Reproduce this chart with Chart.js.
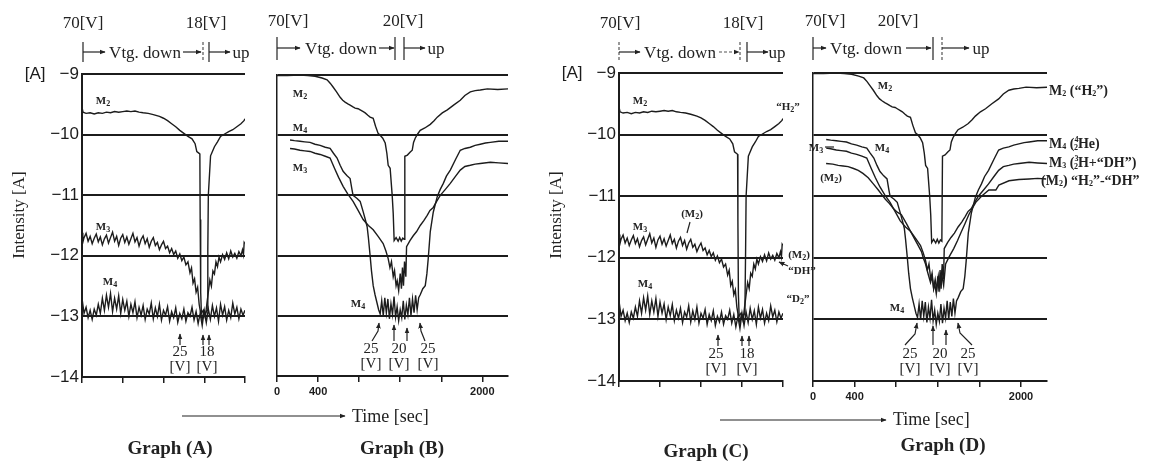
<!DOCTYPE html>
<html>
<head>
<meta charset="utf-8">
<script src="https://cdn.jsdelivr.net/npm/chart.js@4.4.1/dist/chart.umd.min.js"></script>
<style>
  html, body { margin: 0; padding: 0; background: #fff; }
  #wrap { position: relative; width: 1163px; height: 462px; overflow: hidden; }
  canvas { position: absolute; top: 0; }
  svg { position: absolute; left: 0; top: 0; }
  text { font-family: 'Liberation Serif', 'DejaVu Serif', serif; fill: #222; dominant-baseline: central; text-anchor: middle; }
  .top { font-size: 17px; }
  .m { font-size: 11px; font-weight: bold; }
  .v { font-size: 15px; }
  .ax { font-size: 17px; }
  .tm { font-size: 18px; text-anchor: start; }
  .gr { font-size: 19px; font-weight: bold; }
  .r { font-size: 14px; font-weight: bold; text-anchor: start; }
  .s { font-size: 8px; }
  line, path { stroke: #222; stroke-width: 1.2; fill: none; }
  .dash { stroke-dasharray: 3 2; stroke: #555; }
</style>
</head>
<body>
<div id="wrap">
  <canvas id="chA" width="262" height="462" style="left:0px"></canvas>
  <canvas id="chB" width="270" height="462" style="left:262px"></canvas>
  <canvas id="chC" width="265" height="462" style="left:532px"></canvas>
  <canvas id="chD" width="290" height="462" style="left:797px"></canvas>

  <svg width="1163" height="462">
    <defs>
      <marker id="ah" viewBox="0 0 10 10" refX="9" refY="5" markerWidth="5" markerHeight="5" orient="auto">
        <path d="M0,1 L10,5 L0,9 z" style="fill:#222;stroke:none"/>
      </marker>
    </defs>

    <!-- Graph A header -->
    <text class="top" x="83" y="22">70[V]</text>
    <text class="top" x="206" y="22">18[V]</text>
    <line x1="83" y1="42" x2="83" y2="62"/>
    <line x1="83" y1="52" x2="105" y2="52" marker-end="url(#ah)"/>
    <text class="top" x="145" y="52">Vtg. down</text>
    <line x1="183" y1="52" x2="201" y2="52" marker-end="url(#ah)"/>
    <line class="dash" x1="203" y1="42" x2="203" y2="62"/>
    <line x1="209" y1="42" x2="209" y2="62"/>
    <line x1="209" y1="52" x2="230" y2="52" marker-end="url(#ah)"/>
    <text class="top" x="241" y="52">up</text>

    <!-- Graph B header -->
    <text class="top" x="288" y="20">70[V]</text>
    <text class="top" x="403" y="20">20[V]</text>
    <line x1="277" y1="37" x2="277" y2="60"/>
    <line x1="277" y1="48" x2="300" y2="48" marker-end="url(#ah)"/>
    <text class="top" x="341" y="48">Vtg. down</text>
    <line x1="379" y1="48" x2="394" y2="48" marker-end="url(#ah)"/>
    <line x1="395" y1="37" x2="395" y2="60"/>
    <line x1="404" y1="37" x2="404" y2="60"/>
    <line x1="404" y1="48" x2="425" y2="48" marker-end="url(#ah)"/>
    <text class="top" x="436" y="48">up</text>

    <!-- Graph C header -->
    <text class="top" x="620" y="22">70[V]</text>
    <text class="top" x="743" y="22">18[V]</text>
    <line class="dash" x1="619" y1="42" x2="619" y2="62"/>
    <line x1="619" y1="52" x2="640" y2="52" marker-end="url(#ah)"/>
    <text class="top" x="680" y="52">Vtg. down</text>
    <line class="dash" x1="719" y1="52" x2="739" y2="52" marker-end="url(#ah)"/>
    <line class="dash" x1="740" y1="42" x2="740" y2="62"/>
    <line x1="747" y1="42" x2="747" y2="62"/>
    <line x1="747" y1="52" x2="768" y2="52" marker-end="url(#ah)"/>
    <text class="top" x="777" y="52">up</text>

    <!-- Graph D header -->
    <text class="top" x="825" y="20">70[V]</text>
    <text class="top" x="898" y="20">20[V]</text>
    <line x1="813" y1="37" x2="813" y2="60"/>
    <line x1="813" y1="48" x2="826" y2="48" marker-end="url(#ah)"/>
    <text class="top" x="866" y="48">Vtg. down</text>
    <line x1="906" y1="48" x2="931" y2="48" marker-end="url(#ah)"/>
    <line x1="933" y1="37" x2="933" y2="60"/>
    <line class="dash" x1="942" y1="37" x2="942" y2="60"/>
    <line x1="942" y1="48" x2="969" y2="48" marker-end="url(#ah)"/>
    <text class="top" x="981" y="48">up</text>

    <!-- axis titles -->
    <text class="ax" transform="translate(18,215) rotate(-90)">Intensity [A]</text>
    <text class="ax" transform="translate(555,215) rotate(-90)">Intensity [A]</text>
    <line x1="182" y1="416" x2="345" y2="416" marker-end="url(#ah)"/>
    <text class="tm" x="352" y="416">Time [sec]</text>
    <line x1="720" y1="420" x2="886" y2="420" marker-end="url(#ah)"/>
    <text class="tm" x="893" y="419">Time [sec]</text>
    <text class="gr" x="170" y="447">Graph (A)</text>
    <text class="gr" x="402" y="447">Graph (B)</text>
    <text class="gr" x="706" y="450">Graph (C)</text>
    <text class="gr" x="943" y="444">Graph (D)</text>

    <!-- Graph A labels -->
    <text class="m" x="103" y="100">M<tspan class="s" dy="3">2</tspan></text>
    <text class="m" x="103" y="226">M<tspan class="s" dy="3">3</tspan></text>
    <text class="m" x="110" y="281">M<tspan class="s" dy="3">4</tspan></text>
    <line x1="180" y1="345" x2="180" y2="334" marker-end="url(#ah)"/>
    <line x1="203" y1="345" x2="203" y2="335" marker-end="url(#ah)"/>
    <line x1="209" y1="345" x2="209" y2="335" marker-end="url(#ah)"/>
    <text class="v" x="180" y="351">25</text><text class="v" x="180" y="366">[V]</text>
    <text class="v" x="207" y="351">18</text><text class="v" x="207" y="366">[V]</text>

    <!-- Graph B labels -->
    <text class="m" x="300" y="93">M<tspan class="s" dy="3">2</tspan></text>
    <text class="m" x="300" y="127">M<tspan class="s" dy="3">4</tspan></text>
    <text class="m" x="300" y="167">M<tspan class="s" dy="3">3</tspan></text>
    <text class="m" x="358" y="303">M<tspan class="s" dy="3">4</tspan></text>
    <path d="M372,341 L378,331 L379,323" marker-end="url(#ah)"/>
    <line x1="394" y1="341" x2="394" y2="325" marker-end="url(#ah)"/>
    <line x1="407" y1="341" x2="407" y2="328" marker-end="url(#ah)"/>
    <path d="M425,341 L421,331 L420,323" marker-end="url(#ah)"/>
    <text class="v" x="371" y="348">25</text><text class="v" x="371" y="363">[V]</text>
    <text class="v" x="399" y="348">20</text><text class="v" x="399" y="363">[V]</text>
    <text class="v" x="428" y="348">25</text><text class="v" x="428" y="363">[V]</text>

    <!-- Graph C labels -->
    <text class="m" x="640" y="100">M<tspan class="s" dy="3">2</tspan></text>
    <text class="m" x="788" y="106">“H<tspan class="s" dy="3">2</tspan><tspan dy="-3">”</tspan></text>
    <text class="m" x="640" y="226">M<tspan class="s" dy="3">3</tspan></text>
    <text class="m" x="692" y="213">(M<tspan class="s" dy="3">2</tspan><tspan dy="-3">)</tspan></text>
    <line x1="690" y1="222" x2="687" y2="233"/>
    <text class="m" x="645" y="283">M<tspan class="s" dy="3">4</tspan></text>
    <text class="m" x="799" y="254">(M<tspan class="s" dy="3">2</tspan><tspan dy="-3">)</tspan></text>
    <line x1="788" y1="266" x2="779" y2="262" marker-end="url(#ah)"/>
    <text class="m" x="802" y="270">“DH”</text>
    <text class="m" x="798" y="298">“D<tspan class="s" dy="3">2</tspan><tspan dy="-3">”</tspan></text>
    <line x1="718" y1="346" x2="718" y2="335" marker-end="url(#ah)"/>
    <line x1="742" y1="346" x2="742" y2="336" marker-end="url(#ah)"/>
    <line x1="749" y1="346" x2="749" y2="336" marker-end="url(#ah)"/>
    <text class="v" x="716" y="353">25</text><text class="v" x="716" y="368">[V]</text>
    <text class="v" x="747" y="353">18</text><text class="v" x="747" y="368">[V]</text>

    <!-- Graph D labels -->
    <text class="m" x="885" y="85">M<tspan class="s" dy="3">2</tspan></text>
    <text class="m" x="816" y="147">M<tspan class="s" dy="3">3</tspan></text>
    <line x1="825" y1="147" x2="834" y2="147"/>
    <text class="m" x="882" y="147">M<tspan class="s" dy="3">4</tspan></text>
    <text class="m" x="831" y="177">(M<tspan class="s" dy="3">2</tspan><tspan dy="-3">)</tspan></text>
    <text class="m" x="897" y="307">M<tspan class="s" dy="3">4</tspan></text>
    <path d="M905,345 L915,334 L917,323" marker-end="url(#ah)"/>
    <line x1="933" y1="345" x2="933" y2="326" marker-end="url(#ah)"/>
    <line x1="946" y1="345" x2="946" y2="330" marker-end="url(#ah)"/>
    <path d="M972,345 L960,333 L958,323" marker-end="url(#ah)"/>
    <text class="v" x="910" y="353">25</text><text class="v" x="910" y="368">[V]</text>
    <text class="v" x="940" y="353">20</text><text class="v" x="940" y="368">[V]</text>
    <text class="v" x="968" y="353">25</text><text class="v" x="968" y="368">[V]</text>
    <text class="r" x="1049" y="90">M<tspan class="s" dy="3">2</tspan><tspan dy="-3"> (“H</tspan><tspan class="s" dy="3">2</tspan><tspan dy="-3">”)</tspan></text>
    <text class="r" x="1049" y="143">M<tspan class="s" dy="3">4</tspan><tspan dy="-3"> (</tspan><tspan class="s" dy="-4">4</tspan><tspan class="s" dx="-4.5" dy="8">2</tspan><tspan dy="-4">He)</tspan></text>
    <text class="r" x="1049" y="162">M<tspan class="s" dy="3">3</tspan><tspan dy="-3"> (</tspan><tspan class="s" dy="-4">3</tspan><tspan class="s" dx="-4.5" dy="8">2</tspan><tspan dy="-4">H+“DH”)</tspan></text>
    <text class="r" x="1041" y="180">(M<tspan class="s" dy="3">2</tspan><tspan dy="-3">) “H</tspan><tspan class="s" dy="3">2</tspan><tspan dy="-3">”-“DH”</tspan></text>
  </svg>
</div>

<script>
// Graph A / C : time [sec], log intensity
const m2A = [[0,-9.55],[10,-9.63],[40,-9.65],[80,-9.64],[120,-9.66],[160,-9.64],[200,-9.65],[240,-9.63],[280,-9.64],[320,-9.62],
  [360,-9.63],[400,-9.62],[440,-9.61],[480,-9.62],[520,-9.61],[560,-9.63],[600,-9.64],[650,-9.65],[700,-9.67],[760,-9.70],
  [800,-9.73],[840,-9.77],[880,-9.82],[920,-9.87],[960,-9.93],[1000,-9.98],[1040,-10.03],[1080,-10.07],[1110,-10.15],[1127,-10.28],
  [1150,-10.31],[1157,-10.32],[1160,-11.4],[1165,-12.6],[1172,-12.95],[1190,-12.9],[1210,-12.95],[1228,-12.9],[1235,-11.9],[1240,-11.0],
  [1262,-10.35],[1275,-10.3],[1300,-10.2],[1330,-10.12],[1360,-10.03],[1400,-9.99],[1440,-9.95],[1480,-9.92],[1520,-9.87],[1560,-9.82],
  [1590,-9.77],[1600,-9.74]];
const m3A = [[0,-11.62],[8,-11.78],[20,-11.70],[40,-11.63],[60,-11.76],[80,-11.68],[100,-11.80],[120,-11.71],[140,-11.64],[160,-11.77],
  [180,-11.69],[200,-11.82],[220,-11.72],[240,-11.66],[260,-11.79],[280,-11.70],[300,-11.61],[320,-11.76],[340,-11.68],[360,-11.83],
  [380,-11.71],[400,-11.65],[420,-11.78],[440,-11.69],[460,-11.81],[480,-11.72],[500,-11.63],[520,-11.77],[540,-11.70],[560,-11.84],
  [580,-11.73],[600,-11.67],[620,-11.80],[640,-11.72],[660,-11.86],[680,-11.76],[700,-11.70],[720,-11.83],[740,-11.78],[760,-11.90],
  [780,-11.82],[800,-11.76],[820,-11.88],[840,-11.84],[860,-11.95],[880,-11.88],[900,-11.98],[920,-11.92],[940,-12.04],[960,-11.97],
  [980,-12.08],[1000,-12.02],[1020,-12.15],[1040,-12.10],[1060,-12.28],[1075,-12.20],[1090,-12.45],[1105,-12.38],[1120,-12.60],[1135,-12.52],
  [1150,-12.80],[1165,-12.95],[1180,-13.05],[1195,-12.92],[1210,-13.02],[1225,-12.80],[1240,-12.60],[1255,-12.40],[1270,-12.50],[1285,-12.25],
  [1300,-12.30],[1315,-12.10],[1330,-12.18],[1345,-12.02],[1360,-12.10],[1380,-11.98],[1400,-12.06],[1420,-11.95],[1440,-12.05],[1460,-11.92],
  [1480,-12.02],[1500,-11.96],[1520,-12.04],[1540,-11.93],[1560,-12.00],[1575,-11.90],[1585,-11.98],[1592,-11.78],[1600,-11.80]];
const m4A = [[0,-12.70],[20,-12.95],[40,-12.85],[60,-13.02],[80,-12.90],[100,-13.05],[120,-12.88],[140,-12.98],[160,-12.80],[180,-12.95],
  [200,-12.70],[220,-12.90],[240,-12.65],[260,-12.85],[280,-12.62],[300,-12.92],[320,-12.70],[340,-12.88],[360,-12.66],[380,-12.95],
  [400,-12.72],[420,-12.90],[440,-12.75],[460,-13.00],[480,-12.80],[500,-12.94],[520,-12.76],[540,-13.02],[560,-12.85],[580,-12.98],
  [600,-12.82],[620,-13.05],[640,-12.88],[660,-12.96],[680,-12.78],[700,-13.04],[720,-12.86],[740,-13.00],[760,-12.80],[780,-13.06],
  [800,-12.90],[820,-12.98],[840,-12.84],[860,-13.08],[880,-12.92],[900,-13.02],[920,-12.86],[940,-13.10],[960,-12.95],[980,-13.04],
  [1000,-12.88],[1020,-13.08],[1040,-12.94],[1060,-13.00],[1080,-12.85],[1100,-13.06],[1120,-12.92],[1140,-13.12],[1160,-12.95],[1180,-13.15],
  [1200,-12.90],[1220,-13.10],[1240,-12.88],[1260,-13.05],[1280,-12.82],[1300,-13.00],[1320,-12.86],[1340,-13.08],[1360,-12.80],[1380,-12.98],
  [1400,-12.84],[1420,-13.06],[1440,-12.90],[1460,-13.02],[1480,-12.78],[1500,-12.96],[1520,-12.85],[1540,-13.04],[1560,-12.88],[1580,-12.98],
  [1600,-12.90]];

// Graph B / D
const m2B = [[0,-9.01],[100,-9.01],[224,-9.0],[300,-9.01],[371,-9.02],[439,-9.05],[488,-9.08],[520,-9.14],[546,-9.2],[580,-9.28],
  [615,-9.37],[640,-9.42],[663,-9.45],[690,-9.48],[712,-9.5],[740,-9.53],[761,-9.55],[790,-9.56],[810,-9.58],[840,-9.61],
  [859,-9.63],[885,-9.67],[907,-9.7],[937,-9.72],[960,-9.85],[985,-9.97],[1005,-10.0],[1030,-10.05],[1054,-10.13],[1070,-10.3],
  [1083,-10.5],[1102,-10.55],[1122,-11.0],[1132,-11.3],[1141,-11.75],[1160,-11.7],[1180,-11.76],[1195,-11.7],[1210,-11.76],[1225,-11.71],
  [1239,-11.73],[1245,-10.35],[1270,-10.33],[1298,-10.28],[1317,-10.25],[1330,-10.12],[1346,-10.05],[1370,-9.98],[1395,-9.92],[1440,-9.88],
  [1493,-9.82],[1530,-9.76],[1561,-9.7],[1610,-9.63],[1659,-9.58],[1720,-9.5],[1785,-9.42],[1830,-9.34],[1883,-9.28],[1930,-9.26],
  [1980,-9.25],[2049,-9.23],[2150,-9.24],[2254,-9.23]];
const m4B = [[127,-10.08],[170,-10.09],[224,-10.1],[270,-10.11],[322,-10.12],[370,-10.15],[420,-10.17],[470,-10.2],[517,-10.22],[550,-10.3],
  [585,-10.38],[615,-10.5],[644,-10.6],[680,-10.67],[712,-10.72],[730,-10.9],[741,-11.0],[780,-11.05],[810,-11.1],[839,-11.27],
  [860,-11.4],[878,-11.52],[890,-11.7],[907,-12.0],[920,-12.25],[937,-12.5],[955,-12.65],[976,-12.8],[990,-12.9],[1005,-12.97],
  [1020,-12.75],[1035,-13.0],[1050,-12.7],[1065,-12.95],[1080,-12.72],[1095,-13.05],[1110,-12.8],[1125,-12.98],[1140,-12.68],[1155,-13.02],
  [1170,-12.85],[1185,-13.08],[1200,-12.9],[1215,-13.03],[1230,-12.75],[1245,-13.06],[1260,-12.82],[1275,-12.98],[1290,-12.7],[1305,-13.0],
  [1320,-12.72],[1335,-12.95],[1350,-12.66],[1365,-12.9],[1380,-12.7],[1395,-12.65],[1420,-12.55],[1444,-12.5],[1460,-12.3],[1473,-12.05],
  [1493,-11.6],[1522,-11.28],[1561,-11.02],[1590,-10.9],[1620,-10.8],[1650,-10.68],[1688,-10.58],[1740,-10.4],[1785,-10.25],[1830,-10.22],
  [1883,-10.2],[1930,-10.17],[1980,-10.15],[2030,-10.13],[2078,-10.12],[2160,-10.1],[2254,-10.1]];
const m3B = [[127,-10.22],[170,-10.23],[224,-10.25],[270,-10.26],[322,-10.27],[370,-10.3],[420,-10.32],[470,-10.35],[517,-10.38],[560,-10.55],
  [600,-10.7],[644,-10.85],[690,-10.98],[741,-11.1],[790,-11.25],[839,-11.4],[890,-11.5],[937,-11.57],[985,-11.68],[1034,-11.8],
  [1060,-11.92],[1083,-12.05],[1100,-12.2],[1115,-12.1],[1132,-12.35],[1145,-12.25],[1160,-12.5],[1171,-12.42],[1185,-12.58],[1200,-12.3],
  [1212,-12.55],[1222,-12.2],[1232,-12.5],[1242,-12.1],[1255,-12.35],[1262,-11.85],[1295,-11.75],[1327,-11.67],[1360,-11.6],[1395,-11.5],
  [1430,-11.42],[1463,-11.33],[1490,-11.25],[1522,-11.2],[1555,-11.1],[1590,-11.0],[1640,-10.9],[1688,-10.8],[1740,-10.68],[1785,-10.58],
  [1830,-10.52],[1883,-10.5],[1930,-10.48],[1980,-10.47],[2078,-10.45],[2160,-10.46],[2254,-10.47]];
// extra (M2) "H2"-"DH" trace, graph D only
const m2xD = [[126,-10.47],[190,-10.48],[242,-10.5],[290,-10.51],[338,-10.52],[390,-10.55],[435,-10.58],[480,-10.63],[531,-10.7],[580,-10.8],
  [628,-10.9],[660,-10.97],[696,-11.05],[735,-11.12],[773,-11.2],[810,-11.26],[850,-11.3],[900,-11.45],[947,-11.6],[995,-11.75],
  [1043,-11.9],[1060,-12.0],[1082,-12.1],[1105,-12.25],[1130,-12.4],[1145,-12.3],[1160,-12.5],[1175,-12.35],[1190,-12.52],[1205,-12.3],
  [1220,-12.48],[1235,-12.25],[1256,-12.45],[1275,-12.1],[1310,-11.98],[1353,-11.85],[1390,-11.72],[1420,-11.6],[1460,-11.45],[1498,-11.3],
  [1530,-11.2],[1565,-11.1],[1620,-11.0],[1691,-10.9],[1758,-10.9],[1787,-10.82],[1884,-10.75],[1980,-10.73],[2077,-10.72],[2160,-10.71],
  [2242,-10.72]];

// time axis ticks
const timeTicksAC = [0, 400, 800, 1200, 1600];
const timeTicksBD = [0, 400, 800, 1200, 1600, 2000];
const timeLabels = [0, 400, 2000];   // the only labelled ones, on B and D
const ink = '#1c1c1c';

function makeChart(id, geo, series, xMax, tickVals, showY, xLabels) {
  const xH = 26;
  new Chart(document.getElementById(id), {
    type: 'line',
    data: {
      datasets: series.map(s => ({
        data: s.map(p => ({ x: p[0], y: p[1] })),
        borderColor: ink, borderWidth: 1.4, pointRadius: 0, tension: 0
      }))
    },
    options: {
      responsive: false, animation: false, events: [],
      layout: { padding: { left: 0, top: geo.top, right: geo.x + geo.w - geo.right, bottom: 462 - geo.bottom - xH } },
      plugins: { legend: { display: false }, tooltip: { enabled: false } },
      scales: {
        x: {
          type: 'linear', min: 0, max: xMax,
          afterBuildTicks: s => { s.ticks = tickVals.map(v => ({ value: v })); },
          afterFit: s => { s.height = xH; },
          border: { color: ink, width: 2 },
          grid: { drawOnChartArea: false, drawTicks: true, tickLength: 6, color: ink, lineWidth: 1.5 },
          ticks: {
            autoSkip: false, maxRotation: 0, padding: 3, color: ink,
            font: { family: 'Liberation Sans, Arial, sans-serif', size: 11, weight: 'bold' },
            callback: v => (xLabels && xLabels.includes(v)) ? String(v) : ''
          }
        },
        y: {
          min: -14, max: -9,
          afterFit: s => { s.width = geo.left - geo.x; },
          border: { color: ink, width: showY ? 2 : 1.5 },
          grid: { color: ink, lineWidth: 2, drawTicks: false },
          ticks: {
            stepSize: 1, display: showY, padding: 3, color: ink,
            font: { family: 'Liberation Sans, Arial, sans-serif', size: 17 },
            callback: v => v === -9 ? '[A]   −9' : '−' + Math.abs(v)
          }
        }
      }
    }
  });
}

makeChart('chA', { x: 0,   w: 262, left: 82,  right: 245,  top: 74, bottom: 377 }, [m2A, m3A, m4A], 1600, timeTicksAC, true, null);
makeChart('chB', { x: 262, w: 270, left: 277, right: 508,  top: 75, bottom: 376 }, [m2B, m4B, m3B], 2250, timeTicksBD, false, timeLabels);
makeChart('chC', { x: 532, w: 265, left: 619, right: 783,  top: 73, bottom: 381 }, [m2A, m3A, m4A], 1600, timeTicksAC, true, null);
makeChart('chD', { x: 797, w: 290, left: 813, right: 1047, top: 73, bottom: 381 }, [m2B, m4B, m3B, m2xD], 2250, timeTicksBD, false, timeLabels);
</script>
</body>
</html>
